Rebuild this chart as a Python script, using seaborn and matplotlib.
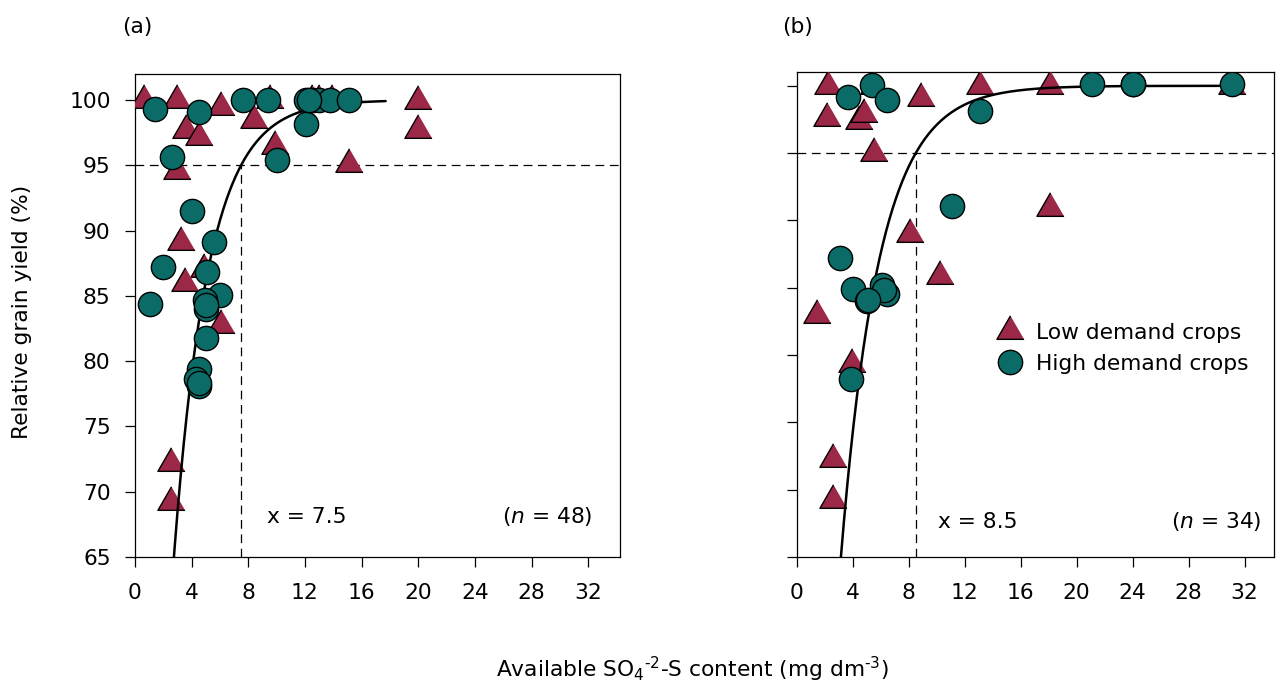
import numpy as np
import pandas as pd
import matplotlib
matplotlib.use("Agg")
import matplotlib.pyplot as plt
from matplotlib.lines import Line2D
import seaborn as sns

# ---------------- data ----------------
# Panel (a)
a_low_x = [0.66, 3.0, 6.06, 3.59, 4.53, 8.41, 9.5, 13.9, 9.87, 15.1, 3.0, 3.24, 4.89,
           3.55, 6.06, 2.54, 2.54, 20.0, 20.0, 12.5, 13.0]
a_low_y = [100.0, 100.0, 99.5, 97.7, 97.2, 98.5, 100.0, 100.0, 96.5, 95.1, 94.6, 89.1, 87.1,
           86.0, 82.8, 72.2, 69.2, 99.9, 97.7, 100.0, 100.0]
a_high_x = [1.41, 4.53, 7.66, 9.42, 12.05, 12.6, 13.0, 13.8, 15.1, 12.05, 2.58, 10.0, 4.0,
            5.59, 2.0, 5.05, 1.08, 6.01, 4.93, 5.0, 5.0, 4.53, 4.3, 4.53, 12.3, 4.5, 5.0]
a_high_y = [99.35, 99.1, 100.0, 100.0, 100.0, 100.0, 100.0, 100.0, 100.0, 98.2, 95.66, 95.4, 91.5,
            89.1, 87.2, 86.8, 84.4, 85.1, 84.7, 84.0, 81.8, 79.4, 78.6, 78.1, 100.0, 78.3, 84.3]

# Panel (b)
b_low_x = [2.19, 5.5, 8.9, 13.1, 18.1, 2.18, 4.4, 4.78, 5.52, 18.1, 8.07, 10.2, 1.4, 3.9,
           2.6, 2.6, 31.1]
b_low_y = [100.0, 100.0, 99.1, 100.0, 100.0, 97.6, 97.4, 97.9, 95.0, 90.9, 89.0, 85.9, 83.0, 79.3,
           72.3, 69.2, 100.0]
b_high_x = [3.67, 5.33, 6.45, 13.07, 11.05, 3.07, 4.02, 5.02, 6.4, 6.05, 3.86, 21.07, 24.0, 31.1,
            6.2, 5.1, 24.0]
b_high_y = [99.15, 100.07, 98.96, 98.1, 91.1, 87.2, 84.9, 84.0, 84.5, 85.2, 78.2, 100.1, 100.1, 100.1,
            84.8, 84.1, 100.1]

# fitted Mitscherlich-type response: y = plateau * (1 - exp(-rate * (x - x0)))
a_fit = dict(plateau=100.0, rate=0.4105, x0=0.19, xmax=17.7, critical=7.5, n=48)
b_fit = dict(plateau=100.0, rate=0.3638, x0=0.254, xmax=31.3, critical=8.5, n=34)

xticks = [0, 4, 8, 12, 16, 20, 24, 28, 32]
yticks = [65, 70, 75, 80, 85, 90, 95, 100]
labels = ["Low demand crops", "High demand crops"]

# ---------------- style ----------------
sns.set_theme(style="ticks")
plt.rcParams["font.family"] = ["DejaVu Sans"]
plt.rcParams["mathtext.fontset"] = "dejavusans"
plt.rcParams["text.color"] = "black"
plt.rcParams["axes.labelcolor"] = "black"
plt.rcParams["xtick.color"] = "black"
plt.rcParams["ytick.color"] = "black"
FS = 15.7

col_low = "#9B2847"
col_high = "#0B6B66"
tri = [(0.0, 1.0), (-0.866, -0.5), (0.866, -0.5)]
S_TRI = 510
S_CIR = 305

fig = plt.figure(figsize=(12.76, 6.84), dpi=100)
axA = fig.add_axes([0.1058, 0.1857, 0.3801, 0.7061])
axB = fig.add_axes([0.6246, 0.1857, 0.3738, 0.7095])


def draw(ax, lx, ly, hx, hy, fit, ylim):
    dlow = pd.DataFrame({"x": lx, "y": ly})
    dhigh = pd.DataFrame({"x": hx, "y": hy})
    xs = np.linspace(0.5, fit["xmax"], 400)
    dcurve = pd.DataFrame({"x": xs,
                           "y": fit["plateau"] * (1 - np.exp(-fit["rate"] * (xs - fit["x0"])))})
    sns.scatterplot(data=dlow, x="x", y="y", ax=ax, marker=tri, s=S_TRI, color=col_low,
                    edgecolor="black", linewidth=1.0, zorder=3, legend=False)
    sns.lineplot(data=dcurve, x="x", y="y", ax=ax, color="black", lw=1.8, zorder=4,
                 sort=False, estimator=None)
    sns.scatterplot(data=dhigh, x="x", y="y", ax=ax, marker="o", s=S_CIR, color=col_high,
                    edgecolor="black", linewidth=1.0, zorder=5, legend=False)
    ax.axhline(95, color="black", lw=0.9, linestyle=(0, (7, 4.5)), zorder=2)
    ax.plot([fit["critical"], fit["critical"]], [ylim[0], 95], color="black", lw=0.9,
            linestyle=(0, (7, 4.5)), zorder=2)
    ax.set_ylim(*ylim)
    ax.set_xticks(xticks)
    ax.set_yticks(yticks)
    ax.set_xlabel("")
    ax.set_ylabel("")
    for sp in ax.spines.values():
        sp.set_visible(True)
        sp.set_color("black")
        sp.set_linewidth(0.9)
    ax.tick_params(axis="both", direction="out", length=7.5, width=0.9, colors="black",
                   labelsize=FS, labelcolor="black")
    ax.tick_params(axis="y", pad=10)
    ax.tick_params(axis="x", pad=11)
    ax.text(fit["critical"] + 1.85, 68.1, f"x = {fit['critical']}", fontsize=FS,
            ha="left", va="center", color="black")


draw(axA, a_low_x, a_low_y, a_high_x, a_high_y, a_fit, (65, 102))
axA.set_xlim(0, 34.25)
axA.text(32.3, 68.1, "($n$ = %d)" % a_fit["n"], fontsize=FS, ha="right", va="center",
         color="black")

draw(axB, b_low_x, b_low_y, b_high_x, b_high_y, b_fit, (65, 101.05))
axB.set_xlim(0, 34.1)
axB.set_yticklabels([])
axB.texts[-1].set_position((b_fit["critical"] + 1.55, 67.6))
axB.text(33.2, 67.6, "($n$ = %d)" % b_fit["n"], fontsize=FS, ha="right", va="center",
         color="black")

handles = [
    Line2D([], [], linestyle="none", marker=tri, markersize=22.6, markerfacecolor=col_low,
           markeredgecolor="black", markeredgewidth=1.0),
    Line2D([], [], linestyle="none", marker="o", markersize=17.5, markerfacecolor=col_high,
           markeredgecolor="black", markeredgewidth=1.0),
]
fig.legend(handles, labels, loc="center left", bbox_to_anchor=(996 / 1276, 1 - 348.5 / 684),
           frameon=False, fontsize=FS, handlelength=1.3, handletextpad=0.55,
           borderpad=0, borderaxespad=0, labelspacing=0.5, labelcolor="black")

fig.text(137 / 1276, 1 - 27 / 684, "(a)", fontsize=FS, ha="center", va="center")
fig.text(797 / 1276, 1 - 27 / 684, "(b)", fontsize=FS, ha="center", va="center")
fig.text(22 / 1276, 1 - 312 / 684, "Relative grain yield (%)", fontsize=FS, rotation=90,
         ha="center", va="center")
fig.text(692 / 1276, 1 - 669 / 684,
         r"Available SO$_4$$^{\text{-2}}$-S content (mg dm$^{\text{-3}}$)",
         fontsize=FS, ha="center", va="center")

fig.savefig("out.png", dpi=100)
